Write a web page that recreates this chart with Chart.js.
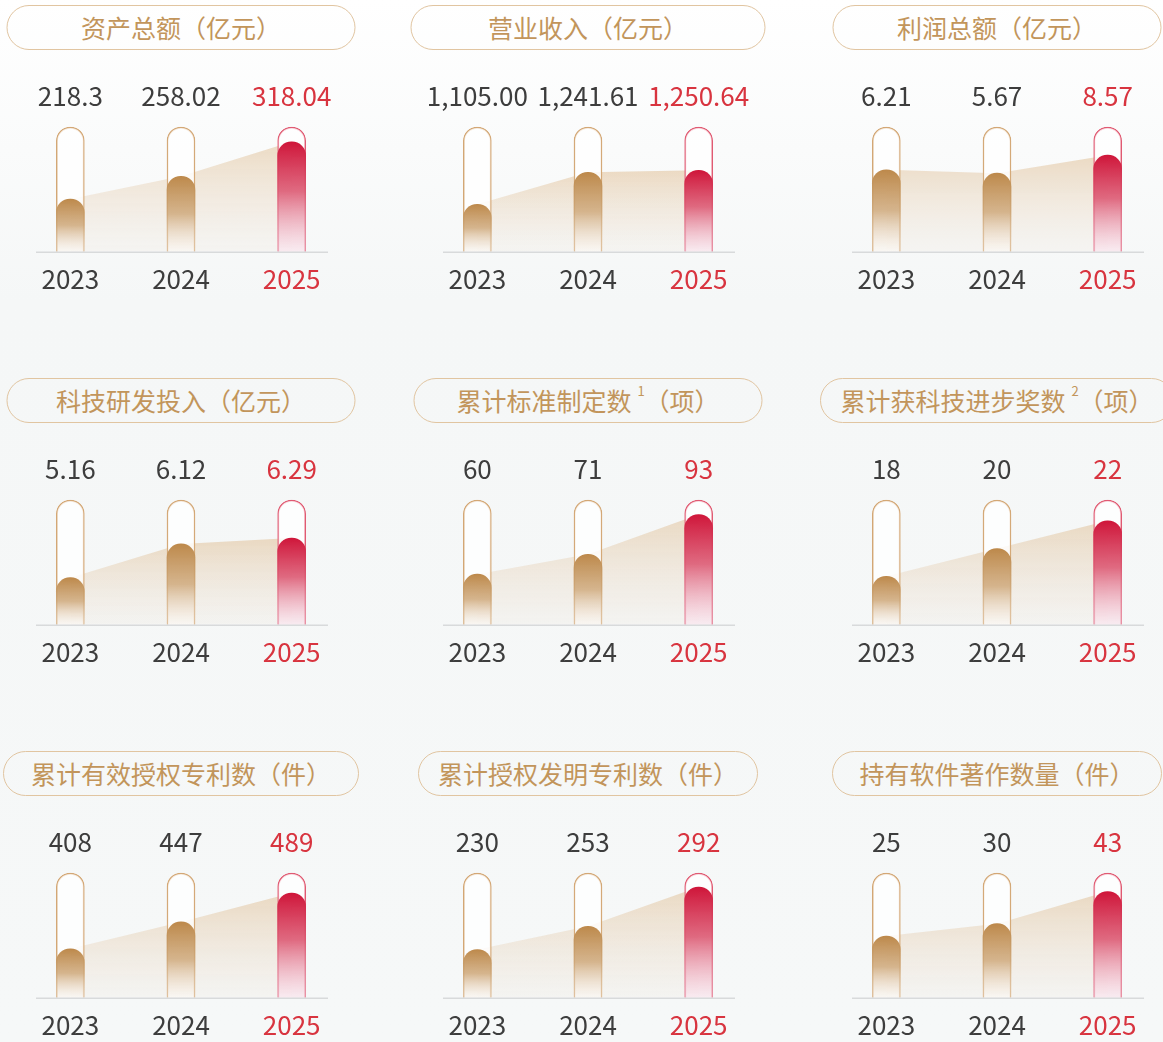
<!DOCTYPE html>
<html lang="zh-CN">
<head>
  <meta charset="UTF-8">
  <title>主要指标</title>
  <script src="https://cdn.jsdelivr.net/npm/chart.js"></script>
  <style>
html, body {
  margin: 0;
  width: 1163px;
  height: 1042px;
  overflow: hidden;
}
body {
  position: relative;
  font-family: "Noto Sans CJK SC", "Noto Sans", sans-serif;
  background: linear-gradient(#ffffff 0px, #f5f7f7 300px, #f6f8f8 1042px);
}
.panel {
  position: absolute;
  width: 332px;
  height: 300px;
}
.pill {
  position: absolute;
  top: 0.5px;
  left: 50%;
  transform: translateX(-50%);
  height: 45px;
  box-sizing: border-box;
  border: 1.5px solid #e1c5a1;
  border-radius: 23px;
  display: flex;
  align-items: center;
  justify-content: center;
  font-size: 25px;
  color: #c2955b;
  white-space: nowrap;
}
.pill .sup {
  font-size: 13px;
  position: relative;
  top: -10px;
  margin: 0 0 0 6px;
}
.panel canvas {
  position: absolute;
  top: 66px;
  left: 0;
}
  </style>
</head>
<body>
  <div class="panel" style="left:15px;top:4px"><div class="pill" style="width:349px">资产总额（亿元）</div><canvas id="c1" width="332" height="242"></canvas></div>
  <div class="panel" style="left:422px;top:4px"><div class="pill" style="width:355px">营业收入（亿元）</div><canvas id="c2" width="332" height="242"></canvas></div>
  <div class="panel" style="left:831px;top:4px"><div class="pill" style="width:329px">利润总额（亿元）</div><canvas id="c3" width="332" height="242"></canvas></div>

  <div class="panel" style="left:15px;top:377px"><div class="pill" style="width:349px">科技研发投入（亿元）</div><canvas id="c4" width="332" height="242"></canvas></div>
  <div class="panel" style="left:422px;top:377px"><div class="pill" style="width:349px">累计标准制定数<span class="sup">1</span>（项）</div><canvas id="c5" width="332" height="242"></canvas></div>
  <div class="panel" style="left:831px;top:377px"><div class="pill" style="width:354px">累计获科技进步奖数<span class="sup">2</span>（项）</div><canvas id="c6" width="332" height="242"></canvas></div>

  <div class="panel" style="left:15px;top:750px"><div class="pill" style="width:356px">累计有效授权专利数（件）</div><canvas id="c7" width="332" height="242"></canvas></div>
  <div class="panel" style="left:422px;top:750px"><div class="pill" style="width:340px">累计授权发明专利数（件）</div><canvas id="c8" width="332" height="242"></canvas></div>
  <div class="panel" style="left:831px;top:750px"><div class="pill" style="width:330px">持有软件著作数量（件）</div><canvas id="c9" width="332" height="242"></canvas></div>

  <script>
    // data
    var years = ['2023', '2024', '2025'];
    var totalAssets = [218.3, 258.02, 318.04];
    var operatingRevenue = [1105.00, 1241.61, 1250.64];
    var totalProfit = [6.21, 5.67, 8.57];
    var rdInvestment = [5.16, 6.12, 6.29];
    var standardsCount = [60, 71, 93];
    var techAwards = [18, 20, 22];
    var validPatents = [408, 447, 489];
    var inventionPatents = [230, 253, 292];
    var softwareCopyrights = [25, 30, 43];

    // value axis range of each small chart (the tubes are not drawn from zero)
    var axisMin = [126, 901, -7, 3.82, 32, 14.5, 337, 182, 0];
    var axisMax = [344, 1436, 13.1, 7.37, 101, 23.5, 518, 306, 50.5];

    var series = [totalAssets, operatingRevenue, totalProfit, rdInvestment, standardsCount,
                  techAwards, validPatents, inventionPatents, softwareCopyrights];

    var DARK = '#3d3d3d';
    var RED = '#d8343f';

    Chart.defaults.font.family = '"Noto Sans CJK SC", "Noto Sans", sans-serif';

    function fmt(v, fixed) {
      if (fixed) {
        return v.toLocaleString('en-US', { minimumFractionDigits: 2, maximumFractionDigits: 2 });
      }
      return String(v);
    }

    function barFill(c) {
      var chart = c.chart;
      var area = chart.chartArea;
      if (!area) return '#c49358';
      var top = chart.scales.y.getPixelForValue(c.raw);
      var g = chart.ctx.createLinearGradient(0, top, 0, area.bottom);
      if (c.dataIndex === 2) {
        g.addColorStop(0, '#cf163a');
        g.addColorStop(0.45, 'rgba(220, 90, 115, 0.9)');
        g.addColorStop(1, 'rgba(242, 212, 224, 0.45)');
      } else {
        g.addColorStop(0, '#bd894b');
        g.addColorStop(0.5, 'rgba(206, 168, 122, 0.85)');
        g.addColorStop(1, 'rgba(242, 234, 224, 0.35)');
      }
      return g;
    }

    function areaFill(c) {
      var chart = c.chart;
      var area = chart.chartArea;
      if (!area) return 'rgba(225, 190, 145, 0.4)';
      var data = chart.data.datasets[0].data;
      var top = chart.scales.y.getPixelForValue(Math.max.apply(null, data));
      var g = chart.ctx.createLinearGradient(0, top, 0, area.bottom);
      g.addColorStop(0, 'rgba(222, 186, 140, 0.5)');
      g.addColorStop(1, 'rgba(232, 214, 194, 0.12)');
      return g;
    }

    // baseline + value labels over each tube
    var capsulePlugin = {
      id: 'capsule',
      afterDatasetsDraw: function(chart, args, opts) {
        var ctx = chart.ctx;
        var a = chart.chartArea;
        var x = chart.scales.x;
        ctx.save();
        ctx.strokeStyle = '#d8dadb';
        ctx.lineWidth = 1.5;
        ctx.beginPath();
        ctx.moveTo(a.left + 21, a.bottom + 0.5);
        ctx.lineTo(a.right - 19, a.bottom + 0.5);
        ctx.stroke();

        ctx.font = '26px "Noto Sans CJK SC", "Noto Sans", sans-serif';
        ctx.textAlign = 'center';
        ctx.textBaseline = 'middle';
        opts.labels.forEach(function(t, i) {
          ctx.fillStyle = i === 2 ? RED : DARK;
          ctx.fillText(t, x.getPixelForValue(i), a.top - 31);
        });
        ctx.restore();
      }
    };

    series.forEach(function(values, k) {
      var yMin = axisMin[k];
      var yMax = axisMax[k];
      var labels = values.map(function(v) { return fmt(v, k === 1); });

      new Chart(document.getElementById('c' + (k + 1)), {
        type: 'bar',
        data: {
          labels: years,
          datasets: [
            {
              type: 'line',
              data: values,
              fill: 'start',
              backgroundColor: areaFill,
              borderWidth: 0,
              pointRadius: 0,
              tension: 0,
              order: 3
            },
            {
              // empty tube behind each bar
              data: years.map(function() { return yMax; }),
              base: yMin,
              grouped: false,
              barThickness: 28,
              backgroundColor: 'rgba(255, 255, 255, 0.8)',
              borderColor: function(c) { return c.dataIndex === 2 ? '#e05a72' : '#d3a775'; },
              borderWidth: { top: 1.3, left: 1.3, right: 1.3, bottom: 0 },
              borderSkipped: false,
              borderRadius: { topLeft: 14, topRight: 14, bottomLeft: 0, bottomRight: 0 },
              clip: false,
              order: 2
            },
            {
              data: values,
              base: yMin,
              grouped: false,
              barThickness: 28,
              backgroundColor: barFill,
              borderWidth: 0,
              borderRadius: { topLeft: 14, topRight: 14, bottomLeft: 0, bottomRight: 0 },
              borderSkipped: false,
              order: 1
            }
          ]
        },
        options: {
          responsive: false,
          animation: false,
          layout: { padding: { top: 57, bottom: 5, left: 0, right: 0 } },
          plugins: {
            legend: { display: false },
            tooltip: { enabled: false },
            capsule: { labels: labels }
          },
          scales: {
            x: {
              offset: true,
              grid: { display: false, drawTicks: false },
              border: { display: false },
              ticks: {
                padding: 12,
                font: { size: 26 },
                color: function(c) { return c.index === 2 ? RED : DARK; }
              }
            },
            y: {
              display: false,
              min: yMin,
              max: yMax
            }
          }
        },
        plugins: [capsulePlugin]
      });
    });
  </script>
</body>
</html>
